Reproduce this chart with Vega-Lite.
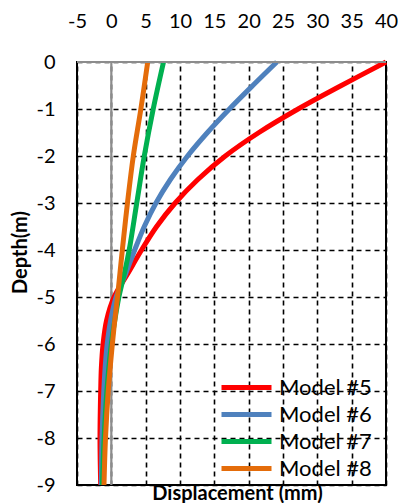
{
  "$schema": "https://vega.github.io/schema/vega-lite/v6.json",
  "width": 309,
  "height": 423,
  "autosize": "none",
  "padding": {"left": 77, "top": 62, "right": 12, "bottom": 18},
  "background": "white",
  "config": {
    "font": "Lato",
    "view": {"stroke": "black", "strokeWidth": 2},
    "axis": {
      "labelFont": "Lato",
      "labelFontSize": 20,
      "labelColor": "black",
      "labelOverlap": false,
      "labelFlush": false,
      "titleFont": "Lato",
      "titleFontWeight": "bold",
      "titleFontSize": 20,
      "titleColor": "black",
      "ticks": false,
      "domain": false,
      "grid": true,
      "gridColor": "black",
      "gridDash": [5, 4],
      "gridWidth": 1.6,
      "gridOpacity": 1
    }
  },
  "datasets": {
    "curves": [
      {"model": "Model #5", "depth": 0, "disp": 40.0},
      {"model": "Model #5", "depth": -0.5, "disp": 33.5},
      {"model": "Model #5", "depth": -1, "disp": 27.2},
      {"model": "Model #5", "depth": -1.5, "disp": 21.5},
      {"model": "Model #5", "depth": -2, "disp": 16.6},
      {"model": "Model #5", "depth": -2.5, "disp": 12.6},
      {"model": "Model #5", "depth": -3, "disp": 9.3},
      {"model": "Model #5", "depth": -3.5, "disp": 6.6},
      {"model": "Model #5", "depth": -4, "disp": 4.4},
      {"model": "Model #5", "depth": -4.5, "disp": 2.4},
      {"model": "Model #5", "depth": -5, "disp": 0.4},
      {"model": "Model #5", "depth": -5.5, "disp": -0.7},
      {"model": "Model #5", "depth": -6, "disp": -1.2},
      {"model": "Model #5", "depth": -6.5, "disp": -1.45},
      {"model": "Model #5", "depth": -7, "disp": -1.55},
      {"model": "Model #5", "depth": -8, "disp": -1.65},
      {"model": "Model #5", "depth": -9, "disp": -1.55},
      {"model": "Model #6", "depth": 0, "disp": 24.1},
      {"model": "Model #6", "depth": -0.5, "disp": 20.6},
      {"model": "Model #6", "depth": -1, "disp": 17.2},
      {"model": "Model #6", "depth": -1.5, "disp": 14.0},
      {"model": "Model #6", "depth": -2, "disp": 11.1},
      {"model": "Model #6", "depth": -2.5, "disp": 8.6},
      {"model": "Model #6", "depth": -3, "disp": 6.5},
      {"model": "Model #6", "depth": -3.5, "disp": 4.8},
      {"model": "Model #6", "depth": -4, "disp": 3.4},
      {"model": "Model #6", "depth": -4.5, "disp": 2.1},
      {"model": "Model #6", "depth": -5, "disp": 0.7},
      {"model": "Model #6", "depth": -5.5, "disp": -0.1},
      {"model": "Model #6", "depth": -6, "disp": -0.6},
      {"model": "Model #6", "depth": -6.5, "disp": -0.9},
      {"model": "Model #6", "depth": -7, "disp": -1.1},
      {"model": "Model #6", "depth": -8, "disp": -1.35},
      {"model": "Model #6", "depth": -9, "disp": -1.45},
      {"model": "Model #7", "depth": 0, "disp": 7.6},
      {"model": "Model #7", "depth": -1, "disp": 6.1},
      {"model": "Model #7", "depth": -2, "disp": 4.8},
      {"model": "Model #7", "depth": -3, "disp": 3.7},
      {"model": "Model #7", "depth": -4, "disp": 2.6},
      {"model": "Model #7", "depth": -4.5, "disp": 1.9},
      {"model": "Model #7", "depth": -5, "disp": 1.1},
      {"model": "Model #7", "depth": -5.5, "disp": 0.5},
      {"model": "Model #7", "depth": -6, "disp": 0.0},
      {"model": "Model #7", "depth": -7, "disp": -0.65},
      {"model": "Model #7", "depth": -8, "disp": -1.05},
      {"model": "Model #7", "depth": -9, "disp": -1.3},
      {"model": "Model #8", "depth": 0, "disp": 5.3},
      {"model": "Model #8", "depth": -1, "disp": 4.3},
      {"model": "Model #8", "depth": -2, "disp": 3.2},
      {"model": "Model #8", "depth": -3, "disp": 2.35},
      {"model": "Model #8", "depth": -4, "disp": 1.6},
      {"model": "Model #8", "depth": -4.5, "disp": 1.25},
      {"model": "Model #8", "depth": -5, "disp": 0.9},
      {"model": "Model #8", "depth": -5.5, "disp": 0.5},
      {"model": "Model #8", "depth": -6, "disp": 0.15},
      {"model": "Model #8", "depth": -7, "disp": -0.45},
      {"model": "Model #8", "depth": -8, "disp": -0.85},
      {"model": "Model #8", "depth": -9, "disp": -1.07}
    ],
    "zeroX": [{"disp": 0}],
    "topY": [{"depth": 0}]
  },
  "layer": [
    {
      "data": {"name": "zeroX"},
      "mark": {"type": "rule", "color": "#8c8c8c", "strokeWidth": 2.2},
      "encoding": {
        "x": {
          "field": "disp",
          "type": "quantitative",
          "scale": {"domain": [-5, 40], "nice": false, "zero": false},
          "axis": {
            "orient": "top",
            "values": [-5, 0, 5, 10, 15, 20, 25, 30, 35, 40],
            "labelExpr": "toString(datum.value)",
            "labelOverlap": false,
            "labelBound": false,
            "labelPadding": 31,
            "title": "Displacement (mm)",
            "titleX": 160,
            "titleY": 431,
            "titleAlign": "center",
            "titleBaseline": "middle",
            "titleAngle": 0
          }
        }
      }
    },
    {
      "data": {"name": "curves"},
      "mark": {"type": "line", "strokeWidth": 5, "interpolate": "catmull-rom", "strokeCap": "butt"},
      "encoding": {
        "x": {
          "field": "disp",
          "type": "quantitative",
          "scale": {"domain": [-5, 40], "nice": false, "zero": false},
          "axis": {
            "orient": "top",
            "values": [-5, 0, 5, 10, 15, 20, 25, 30, 35, 40],
            "labelExpr": "toString(datum.value)",
            "labelOverlap": false,
            "labelBound": false,
            "labelPadding": 31,
            "title": "Displacement (mm)",
            "titleX": 160,
            "titleY": 431,
            "titleAlign": "center",
            "titleBaseline": "middle",
            "titleAngle": 0
          }
        },
        "y": {
          "field": "depth",
          "type": "quantitative",
          "scale": {"domain": [-9, 0], "nice": false, "zero": false},
          "axis": {
            "values": [0, -1, -2, -3, -4, -5, -6, -7, -8, -9],
            "labelExpr": "toString(datum.value)",
            "labelOverlap": false,
            "labelPadding": 22,
            "title": "Depth(m)",
            "titleX": -57,
            "titleY": 190,
            "titleAngle": 270,
            "titleAlign": "center",
            "titleBaseline": "middle"
          }
        },
        "order": {"field": "depth", "sort": "descending"},
        "color": {
          "field": "model",
          "type": "nominal",
          "scale": {
            "domain": ["Model #5", "Model #6", "Model #7", "Model #8"],
            "range": ["#FF0000", "#4F81BD", "#00B050", "#E46C0A"]
          },
          "legend": {
            "title": null,
            "orient": "none",
            "legendX": 157,
            "legendY": 313,
            "padding": 0,
            "symbolType": "M-2.5,0H2.5",
            "symbolSize": 400,
            "symbolStrokeWidth": 5,
            "labelFont": "Lato",
            "labelFontSize": 22,
            "labelColor": "black",
            "labelOffset": 20,
            "rowPadding": 3
          }
        }
      }
    },
    {
      "data": {"name": "topY"},
      "mark": {"type": "rule", "color": "#8c8c8c", "strokeWidth": 2},
      "encoding": {
        "y": {
          "field": "depth",
          "type": "quantitative",
          "scale": {"domain": [-9, 0], "nice": false, "zero": false},
          "axis": {
            "values": [0, -1, -2, -3, -4, -5, -6, -7, -8, -9],
            "labelExpr": "toString(datum.value)",
            "labelOverlap": false,
            "labelPadding": 22,
            "title": "Depth(m)",
            "titleX": -57,
            "titleY": 190,
            "titleAngle": 270,
            "titleAlign": "center",
            "titleBaseline": "middle"
          }
        }
      }
    }
  ]
}
